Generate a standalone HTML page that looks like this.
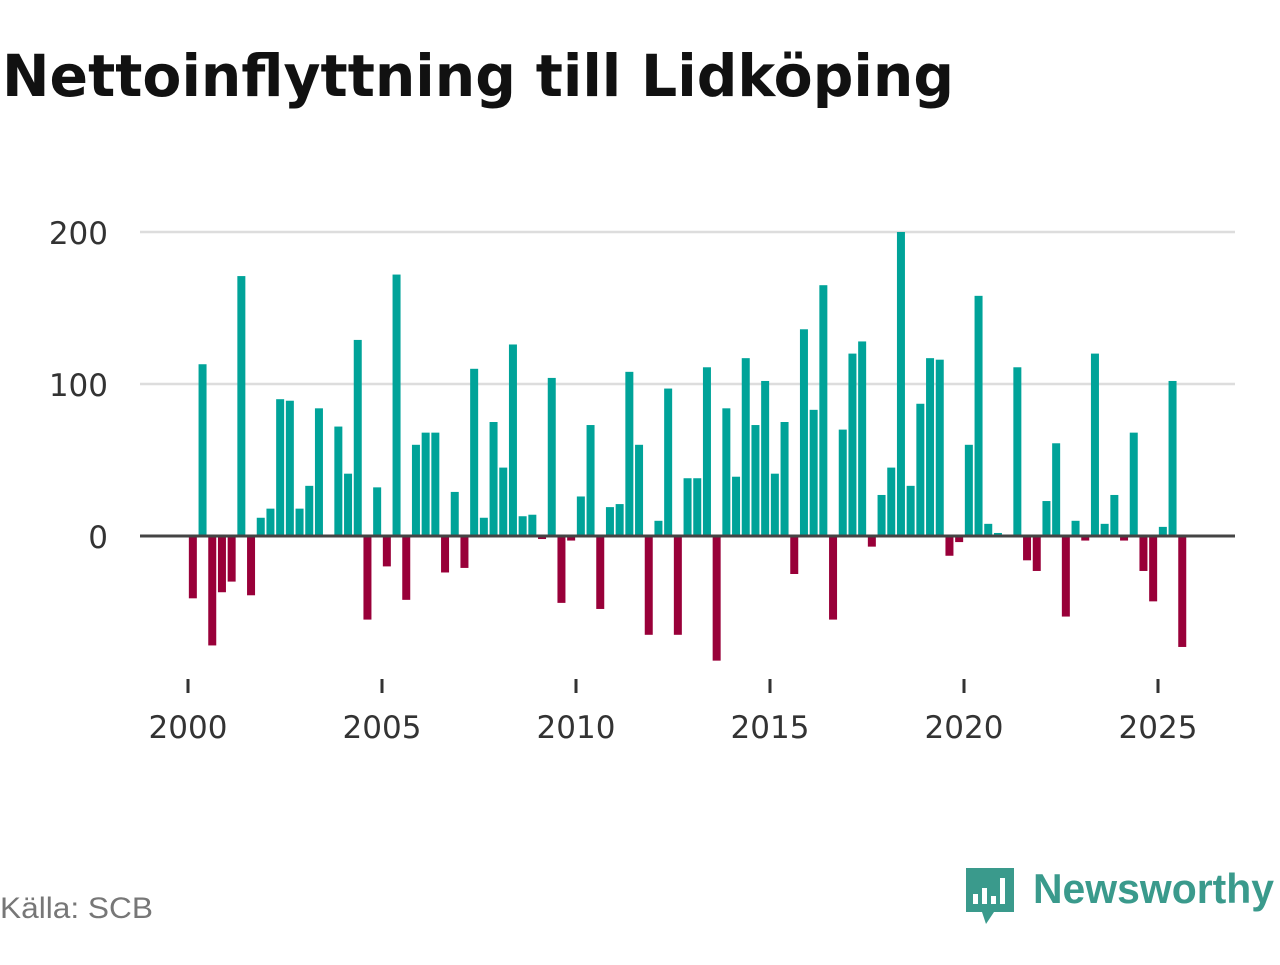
<!DOCTYPE html>
<html><head><meta charset="utf-8"><style>
body{margin:0;background:#fff;width:1280px;height:960px;overflow:hidden;font-family:"Liberation Sans","DejaVu Sans",sans-serif}
</style></head><body>
<svg width="1280" height="960" xmlns="http://www.w3.org/2000/svg">
<text x="2" y="96" font-size="58" font-weight="bold" fill="#111" font-family="DejaVu Sans, sans-serif" textLength="952" lengthAdjust="spacingAndGlyphs">Nettoinflyttning till Lidköping</text>
<g id="grid"></g><g id="bars"></g><g id="axes"></g>
<text x="0" y="918" font-size="30" fill="#777" textLength="153" lengthAdjust="spacingAndGlyphs">Källa: SCB</text>
<g>
<path d="M966 868 h48 v44 h-20 l-8 12 l-4 -12 h-16 z" fill="#3a9a8c"/>
<rect x="973" y="894" width="5" height="10" fill="#fff"/><rect x="982" y="888" width="5" height="16" fill="#fff"/><rect x="991" y="896" width="5" height="8" fill="#fff"/><rect x="1000" y="878" width="5" height="26" fill="#fff"/>
<text x="1033" y="903" font-size="42" font-weight="bold" fill="#3a9a8c" textLength="241" lengthAdjust="spacingAndGlyphs">Newsworthy</text>
</g>
</svg>
<script>
const values=[-41,113,-72,-37,-30,171,-39,12,18,90,89,18,33,84,0,72,41,129,-55,32,-20,172,-42,60,68,68,-24,29,-21,110,12,75,45,126,13,14,-2,104,-44,-3,26,73,-48,19,21,108,60,-65,10,97,-65,38,38,111,-82,84,39,117,73,102,41,75,-25,136,83,165,-55,70,120,128,-7,27,45,200,33,87,117,116,-13,-4,60,158,8,2,0,111,-16,-23,23,61,-53,10,-3,120,8,27,-3,68,-23,-43,6,102,-73];
const startYear=2000;
const yTicks=[0,100,200];
const xTicks=[2000,2005,2010,2015,2020,2025];
const NS="http://www.w3.org/2000/svg";
function y(v){return 536-v*1.52;}
function x(t){return 188+(t-2000)*38.8;}
function mk(tag,attrs,parent){const e=document.createElementNS(NS,tag);for(const k in attrs)e.setAttribute(k,attrs[k]);parent.appendChild(e);return e;}
const grid=document.getElementById('grid'),bars=document.getElementById('bars'),axes=document.getElementById('axes');
yTicks.forEach(t=>{
 if(t!==0){const l=mk('line',{x1:140,x2:1235,y1:y(t),y2:y(t),stroke:'#ddd','stroke-width':2.5},grid);
 
 }
 const tx=mk('text',{x:108,y:y(t)+12,'text-anchor':'end','font-size':31,fill:'#333','font-family':'DejaVu Sans, sans-serif'},grid);tx.textContent=t;
 
 
});
values.forEach((v,i)=>{
 const cx=x(startYear+(i+0.5)/4);
 const top=v>=0?y(v):y(0),h=Math.abs(y(v)-y(0));
 const r=mk('rect',{x:cx-4,y:top,width:8,height:h,fill:v>=0?'#00a399':'#990039'},bars);
 
 
});
const z=mk('line',{x1:140,x2:1235,y1:y(0),y2:y(0),stroke:'#444','stroke-width':3},axes);


xTicks.forEach(t=>{
 const l=mk('line',{x1:x(t),x2:x(t),y1:679,y2:693,stroke:'#333','stroke-width':3},axes);
 
 
 const tx=mk('text',{x:x(t),y:738,'text-anchor':'middle','font-size':31,fill:'#333','font-family':'DejaVu Sans, sans-serif'},axes);tx.textContent=t;
 
 
});
</script>
</body></html>
